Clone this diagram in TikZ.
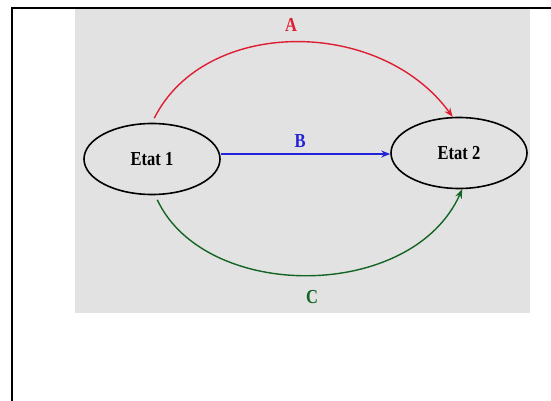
\documentclass[tikz,border=0pt]{standalone}
\usepackage{fontspec}
\setmainfont{Liberation Serif}
\usetikzlibrary{shapes.geometric,arrows.meta}
\definecolor{bgray}{RGB}{226,226,226}
\definecolor{cred}{RGB}{222,30,50}
\definecolor{cblue}{RGB}{35,35,215}
\definecolor{cgreen}{RGB}{20,100,35}
\newcommand{\tallbf}[1]{\scalebox{1}[1.2]{#1}}
\tikzset{
  etat/.style={ellipse, draw=black, line width=1.6pt, minimum width=136pt, minimum height=71pt, inner sep=0pt, font=\bfseries\fontsize{16.5}{18}\selectfont},
  conn/.style={line width=1.4pt, -{Stealth[length=9pt,width=7pt]}},
  lbl/.style={font=\bfseries\fontsize{16.5}{18}\selectfont, inner sep=0pt}
}
\begin{document}
\begin{tikzpicture}[x=1pt,y=-1pt]
\useasboundingbox (0,0) rectangle (551,401);
\fill[white] (0,0) rectangle (551,401);
\fill[bgray] (75,9) rectangle (530,313);
\draw[line width=2pt] (12,401) -- (12,8.5) -- (551,8.5);
\node[etat] (e1) at (152,159) {\tallbf{Etat 1}};
\node[etat] (e2) at (459,153) {\tallbf{Etat 2}};
\draw[conn, cred, shorten <=5pt] (e1.north) .. controls (205,17) and (380,17) .. (e2.100);
\draw[conn, cblue] (e1.east |- 0,154) -- (e2.west |- 0,154);
\draw[conn, cgreen, shorten <=5pt] (e1.-85) .. controls (205,302) and (412,302) .. (e2.-85);
\node[lbl, cred] (la) at (291,25) {\tallbf{A}};
\node[lbl, cblue] (lb) at (300,141) {\tallbf{B}};
\node[lbl, cgreen] (lc) at (312,297) {\tallbf{C}};
\end{tikzpicture}
\end{document}
